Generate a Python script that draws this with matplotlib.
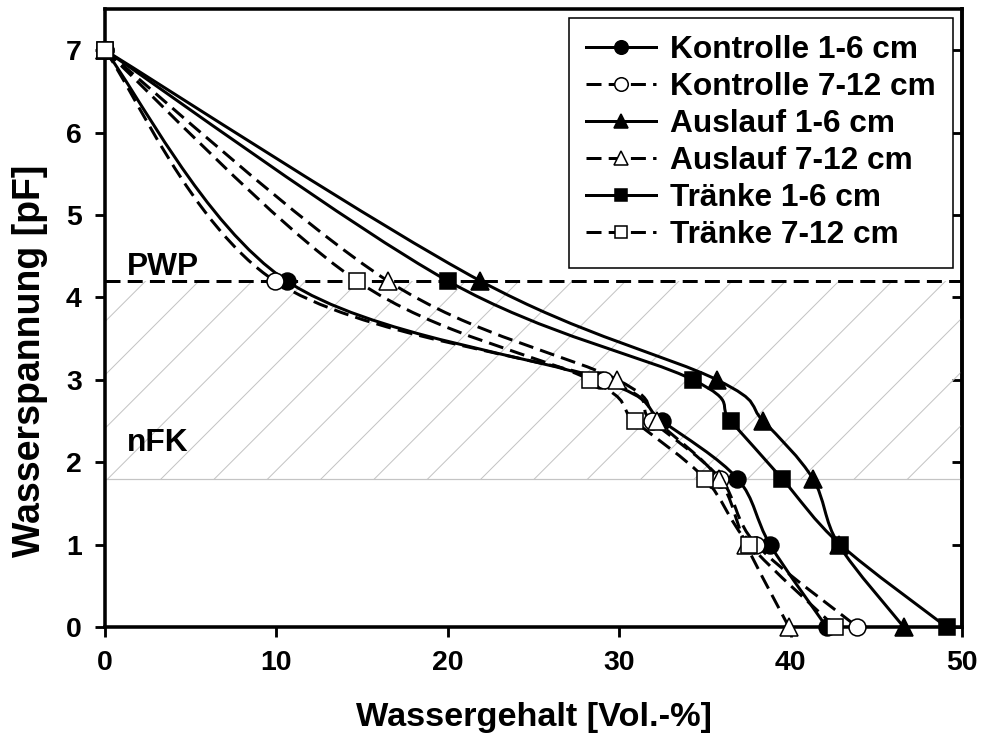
import numpy as np
import matplotlib
matplotlib.use("Agg")
from matplotlib import pyplot as plt
from matplotlib.path import Path
from matplotlib.patches import PathPatch
from matplotlib.lines import Line2D

# pF levels (same for every series)
pf = [7, 4.2, 3.0, 2.5, 1.8, 1.0, 0]

# water content [Vol.-%] per series
kontrolle_1_6 = [0, 10.6, 28.9, 32.5, 36.9, 38.8, 42.1]
kontrolle_7_12 = [0, 9.9, 29.1, 31.9, 35.9, 38.0, 43.9]
auslauf_1_6 = [0, 21.9, 35.7, 38.4, 41.3, 42.8, 46.6]
auslauf_7_12 = [0, 16.5, 29.9, 32.2, 35.8, 37.4, 39.9]
traenke_1_6 = [0, 20.0, 34.3, 36.5, 39.5, 42.9, 49.1]
traenke_7_12 = [0, 14.7, 28.3, 30.9, 35.0, 37.6, 42.6]

labels = ["Kontrolle 1-6 cm", "Kontrolle 7-12 cm", "Auslauf 1-6 cm",
          "Auslauf 7-12 cm", "Tränke 1-6 cm", "Tränke 7-12 cm"]

pwp = 4.2
nfk_low = 1.8

plt.rcParams["font.family"] = ["Liberation Sans", "DejaVu Sans"]
plt.rcParams["font.weight"] = "bold"
plt.rcParams["axes.labelweight"] = "bold"
plt.rcParams["hatch.linewidth"] = 0.45


def smooth_path(xs, ys):
    """Catmull-Rom style smoothed path through the points (like Excel's smoothed lines)."""
    pts = np.column_stack([xs, ys]).astype(float)
    verts = [pts[0]]
    codes = [Path.MOVETO]
    for i in range(len(pts) - 1):
        p0 = pts[i - 1] if i > 0 else pts[i]
        p1 = pts[i]
        p2 = pts[i + 1]
        p3 = pts[i + 2] if i + 2 < len(pts) else pts[i + 1]
        verts += [p1 + (p2 - p0) / 6, p2 - (p3 - p1) / 6, p2]
        codes += [Path.CURVE4] * 3
    return Path(verts, codes)


# dpi 160 gives the hatch spacing of the original (~27 px)
DPI = 160
fig = plt.figure(figsize=(982 / DPI, 744 / DPI), dpi=DPI)
ax = fig.add_axes([105 / 982, 117 / 744, 857 / 982, 618 / 744])

ax.set_xlim(0, 50)
ax.set_ylim(0, 7.5)

# nFK band
ax.fill_between([0, 50], nfk_low, pwp, facecolor="none", edgecolor="#c4c4c4",
                hatch="/", linewidth=0, zorder=1)
ax.axhline(nfk_low, color="#c4c4c4", lw=0.55, zorder=1)
ax.axhline(pwp, color="black", lw=1.35, ls=(0, (5, 2.4)), zorder=2)

ax.text(1.3, 4.27, "PWP", fontsize=14.25, fontweight="bold", va="baseline")
ax.text(1.3, 2.13, "nFK", fontsize=14.25, fontweight="bold", va="baseline")

series = [kontrolle_1_6, kontrolle_7_12, auslauf_1_6, auslauf_7_12, traenke_1_6, traenke_7_12]
markers = ["o", "o", "^", "^", "s", "s"]
msizes = [7.6, 7.6, 8.0, 8.0, 6.8, 6.8]
filled = [True, False, True, False, True, False]
styles = ["-", (0, (5, 2.4)), "-", (0, (5, 2.4)), "-", (0, (5, 2.4))]

handles = []
for xs, m, ms, f, ls, lab in zip(series, markers, msizes, filled, styles, labels):
    fc = "black" if f else "white"
    ax.add_patch(PathPatch(smooth_path(xs, pf), facecolor="none", edgecolor="black",
                           lw=1.35, linestyle=ls, zorder=3))
    ax.plot(xs, pf, ls="none", marker=m, ms=ms, mfc=fc, mec="black", mew=0.7,
            zorder=4, clip_on=False)
    handles.append(Line2D([], [], color="black", lw=1.35, ls=ls, marker=m, ms=ms * 0.8,
                          mfc=fc, mec="black", mew=0.7, label=lab))

leg = ax.legend(handles=handles, loc="upper right", bbox_to_anchor=(953 / 982, 726 / 744),
                bbox_transform=fig.transFigure, borderaxespad=0,
                frameon=True, fancybox=False, framealpha=1, edgecolor="black",
                handlelength=2.2, handletextpad=0.45, labelspacing=0.22,
                borderpad=0.55, prop={"weight": "bold", "size": 14.25})
leg.get_frame().set_linewidth(0.7)
leg.set_zorder(6)

ax.set_xticks([0, 10, 20, 30, 40, 50])
ax.set_yticks(range(8))
ax.tick_params(axis="both", direction="out", length=4.5, width=1.28, labelsize=12.75, pad=6)
for lab in ax.get_xticklabels() + ax.get_yticklabels():
    lab.set_fontweight("bold")
for sp in ax.spines.values():
    sp.set_linewidth(1.6)

# inward ticks on the right spine
sec = ax.secondary_yaxis("right")
sec.set_yticks(range(8))
sec.tick_params(direction="in", length=4.5, width=1.28, labelright=False)
sec.spines["right"].set_linewidth(1.6)

ax.set_xlabel("Wassergehalt [Vol.-%]", fontsize=15.4, fontweight="bold")
ax.set_ylabel("Wasserspannung [pF]", fontsize=16.9, fontweight="bold")
ax.xaxis.set_label_coords(0.5, -0.122)
ax.yaxis.set_label_coords(-0.066, 0.43)

fig.savefig("out.png", dpi=DPI)
